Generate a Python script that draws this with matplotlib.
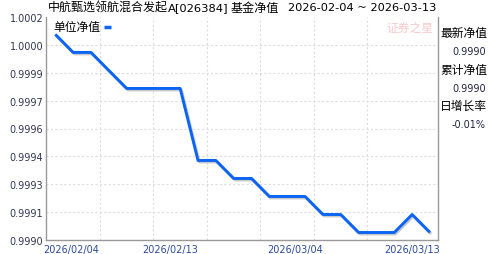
import matplotlib
matplotlib.use('Agg')
import matplotlib.pyplot as plt
import matplotlib.transforms as mtransforms
import numpy as np

plt.rcParams['font.family'] = ['Noto Sans CJK SC', 'DejaVu Sans']

# Data: trading days 2026-02-04 .. 2026-03-13
dates = ['2026/02/04', '2026/02/05', '2026/02/06', '2026/02/09', '2026/02/10',
         '2026/02/11', '2026/02/12', '2026/02/13', '2026/02/24', '2026/02/25',
         '2026/02/26', '2026/02/27', '2026/03/02', '2026/03/03', '2026/03/04',
         '2026/03/05', '2026/03/06', '2026/03/09', '2026/03/10', '2026/03/11',
         '2026/03/12', '2026/03/13']
nav = [1.0001, 1.0000, 1.0000, 0.9999, 0.9998, 0.9998, 0.9998, 0.9998, 0.9994,
       0.9994, 0.9993, 0.9993, 0.9992, 0.9992, 0.9992, 0.9991, 0.9991, 0.9990,
       0.9990, 0.9990, 0.9991, 0.9990]
label_dates = ['2026/02/04', '2026/02/13', '2026/03/04', '2026/03/13']
# title pieces: text, left px, right px
title_parts = [('中航甄选领航混合发起', 48, 167),
               ('A[026384]', 168, 228),
               ('基金净值', 231, 279),
               ('2026-02-04 ~ 2026-03-13', 288, 437)]
side_labels = ['最新净值', '累计净值', '日增长率']
side_values = ['0.9990', '0.9990', '-0.01%']

x = np.arange(len(nav))

fig = plt.figure(figsize=(4.88, 2.55), dpi=100)
W, H = 488, 255
ax = fig.add_axes([46 / W, 1 - 240.7 / H, (438 - 46) / W, (240.7 - 18.3) / H])

# shadow + line
shadow = mtransforms.offset_copy(ax.transData, fig=fig, x=1.2, y=-1.5, units='dots')
ax.plot(x, nav, color='#c8c8c8', lw=2.1, transform=shadow, solid_capstyle='butt')
ax.plot(x, nav, color='#0a64f5', lw=2.1, solid_capstyle='butt')

ymin, ymax = 0.99896, 1.000195
ax.set_ylim(ymin, ymax)
ax.set_xlim(-0.52, len(nav) - 1 + 0.45)
yt = np.linspace(ymin, ymax, 9)
ax.set_yticks(yt)
ax.set_yticklabels(['%.4f' % v for v in yt], fontsize=7, color='#333355',
                   family='DejaVu Sans')

# vertical grid every 3 points from the left edge
for gx in np.arange(-0.52 + 3, len(nav) - 2, 3):
    ax.axvline(gx, color='#dddddd', lw=0.8, ls=(0, (2, 2)), zorder=0)
for gy in yt[1:-1]:
    ax.axhline(gy, color='#dddddd', lw=0.8, ls=(0, (2, 2)), zorder=0)

# date labels (shifted like the original, kept inside the frame)
ax.set_xticks([])
shifts = [16, -10, -10, -18]
xtrans = mtransforms.blended_transform_factory(ax.transData, fig.transFigure)
for d, dx in zip(label_dates, shifts):
    t = mtransforms.offset_copy(xtrans, fig=fig, x=dx, y=0, units='dots')
    ax.text(dates.index(d), 1 - 250.5 / H, d, transform=t, fontsize=7,
            color='#2a4a9a', family='DejaVu Sans', ha='center', va='center',
            clip_on=False)
ax.tick_params(length=0, pad=2)

for s in ['left', 'bottom', 'right']:
    ax.spines[s].set_color('#999999')
    ax.spines[s].set_linewidth(1)
ax.spines['top'].set_visible(False)

# legend
fig.text(53 / W, 1 - 27 / H, '单位净值', fontsize=8.5, va='center', ha='left')
ax.plot([0.149, 0.166], [0.958, 0.958], transform=ax.transAxes, color='#0a64f5',
        lw=2.5, solid_capstyle='butt')

# watermark
fig.text(433 / W, 1 - 28 / H, '证券之星', fontsize=8.5, color='#f7c9c9',
         ha='right', va='center', style='italic')

# title, fitted piece by piece to the original widths
renderer = fig.canvas.get_renderer()
for txt, x0, x1 in title_parts:
    t = fig.text(x0 / W, 1 - 8 / H, txt, fontsize=8.6, va='center', ha='left',
                 family=['DejaVu Sans', 'Noto Sans CJK SC'])
    w = t.get_window_extent(renderer).width
    t.set_fontsize(8.6 * (x1 - x0) / w)

# right panel
ys = [33, 70.5, 106]
for lab, val, yy in zip(side_labels, side_values, ys):
    fig.text(440 / W, 1 - yy / H, lab, fontsize=8.5, va='center', ha='left')
    fig.text(486 / W, 1 - (yy + 19) / H, val, fontsize=7, va='center', ha='right',
             color='#222244', family='DejaVu Sans')

fig.savefig('out.png', dpi=100)
